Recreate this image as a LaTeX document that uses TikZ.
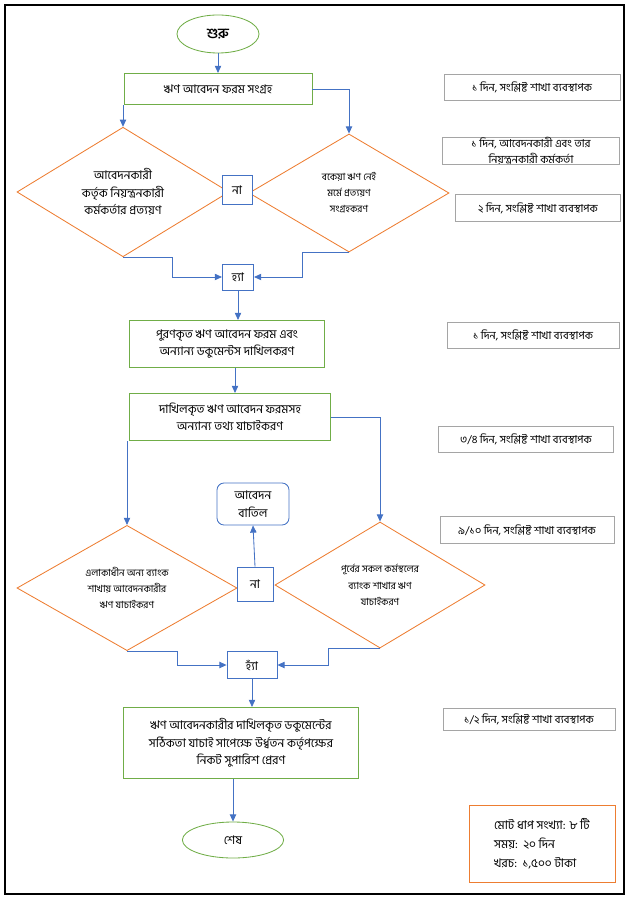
\documentclass[tikz,border=0pt]{standalone}
\usepackage{fontspec}
\newfontfamily\bnfont[Script=Bengali]{Hind Siliguri}
\usepackage{tikz}
\usetikzlibrary{arrows.meta,shapes.geometric}

\definecolor{boxgreen}{HTML}{70AD47}
\definecolor{diaorange}{HTML}{ED7D31}
\definecolor{linkblue}{HTML}{4472C4}
\definecolor{notegray}{HTML}{A5A5A5}

\begin{document}
\begin{tikzpicture}[x=0.025cm, y=-0.025cm,
  font=\bnfont\fontsize{8.5}{12.5}\selectfont,
  terminal/.style={ellipse, draw=boxgreen, line width=0.6pt, inner sep=0pt},
  process/.style={draw=boxgreen, line width=0.6pt, align=center, inner sep=0pt},
  decision/.style={diamond, draw=diaorange, line width=0.6pt, align=center, inner sep=0pt},
  answer/.style={draw=linkblue, fill=white, line width=0.6pt, inner sep=0pt},
  note/.style={draw=notegray, line width=0.6pt, align=center, inner sep=0pt,
    font=\bnfont\fontsize{7.8}{11}\selectfont},
  small/.style={font=\bnfont\fontsize{7}{11.5}\selectfont},
  arrow/.style={-{Triangle[length=1.8mm,width=1.6mm]}, draw=linkblue, line width=0.6pt}
]
\useasboundingbox (0,0) rectangle (637,905);
\draw[line width=0.9pt] (5,5) rectangle (624,894);

% main column
\node[terminal, minimum width=2.05cm, minimum height=0.95cm, font=\bnfont\bfseries\fontsize{10}{12}\selectfont] (start) at (218,34) {শুরু};
\node[process, minimum width=4.7cm, minimum height=0.78cm] (collect) at (218,89) {ঋণ আবেদন ফরম সংগ্রহ};
\node[decision, minimum width=5.3cm, minimum height=3.0cm] (ldia) at (123,192)
  {আবেদনকারী\\ কর্তৃক নিয়ন্ত্রনকারী\\ কর্মকর্তার প্রত্যয়ণ};
\node[decision, small, minimum width=5.0cm, minimum height=2.95cm] (rdia) at (349,193)
  {বকেয়া ঋণ নেই\\ মর্মে প্রত্যয়ণ\\ সংগ্রহকরণ};
\node[answer, minimum width=0.75cm, minimum height=0.72cm] (no1) at (237,190) {না};
\node[answer, minimum width=0.78cm, minimum height=0.65cm] (yes1) at (238,277) {হ্যা};
\node[process, minimum width=4.88cm, minimum height=1.18cm] (submit) at (227,344)
  {পুরণকৃত ঋণ আবেদন ফরম এবং\\ অন্যান্য ডকুমেন্টস দাখিলকরণ};
\node[process, minimum width=5.03cm, minimum height=1.18cm] (verify) at (230,417)
  {দাখিলকৃত ঋণ আবেদন ফরমসহ\\ অন্যান্য তথ্য যাচাইকরণ};
\node[decision, small, minimum width=5.5cm, minimum height=2.95cm] (ldia2) at (127,588)
  {এলাকাধীন অন্য ব্যাংক\\ শাখায় আবেদনকারীর\\ ঋণ যাচাইকরণ};
\node[decision, small, minimum width=5.25cm, minimum height=3.15cm] (rdia2) at (380,585)
  {পূর্বের সকল কর্মস্থলের\\ ব্যাংক শাখার ঋণ\\ যাচাইকরণ};
\node[answer, minimum width=0.9cm, minimum height=0.85cm] (no2) at (255,584) {না};
\node[answer, rounded corners=5pt, align=center, minimum width=1.8cm, minimum height=1.05cm] (reject) at (253,504)
  {আবেদন\\ বাতিল};
\node[answer, minimum width=1.25cm, minimum height=0.68cm] (yes2) at (252,665) {হ্যাঁ};
\node[process, minimum width=5.88cm, minimum height=1.78cm] (recommend) at (241,743)
  {ঋণ আবেদনকারীর দাখিলকৃত ডকুমেন্টের\\ সঠিকতা যাচাই সাপেক্ষে উর্ধ্বতন কর্তৃপক্ষের\\ নিকট সুপারিশ প্রেরণ};
\node[terminal, minimum width=2.53cm, minimum height=0.9cm] (finish) at (233,840) {শেষ};

% time notes
\node[note, minimum width=4.4cm, minimum height=0.65cm] (n1) at (532,87) {১ দিন, সংশ্লিষ্ট শাখা ব্যবস্থাপক};
\node[note, minimum width=4.43cm, minimum height=0.68cm] (n2) at (531,151) {১ দিন, আবেদনকারী এবং তার\\ নিয়ন্ত্রনকারী কর্মকর্তা};
\node[note, minimum width=4.13cm, minimum height=0.68cm] (n3) at (538,208) {২ দিন, সংশ্লিষ্ট শাখা ব্যবস্থাপক};
\node[note, minimum width=4.3cm, minimum height=0.65cm] (n4) at (533,335) {১ দিন, সংশ্লিষ্ট শাখা ব্যবস্থাপক};
\node[note, minimum width=4.38cm, minimum height=0.65cm] (n5) at (526,439) {৩/৪ দিন, সংশ্লিষ্ট শাখা ব্যবস্থাপক};
\node[note, minimum width=4.35cm, minimum height=0.68cm] (n6) at (527,530) {৯/১০ দিন, সংশ্লিষ্ট শাখা ব্যবস্থাপক};
\node[note, minimum width=4.3cm, minimum height=0.55cm] (n7) at (529,719) {১/২ দিন, সংশ্লিষ্ট শাখা ব্যবস্থাপক};
\node[draw=diaorange, line width=0.6pt, align=left, minimum width=3.65cm, minimum height=1.93cm,
  font=\bnfont\fontsize{8.5}{13.5}\selectfont] (summary) at (542,844)
  {মোট ধাপ সংখ্যা: ৮ টি\\ সময়:\ \ ২০ দিন\\ খরচ:\ \ ১,৫০০ টাকা};

% connectors
\draw[arrow] (start) -- (collect);
\draw[arrow] (collect.south -| ldia.north) -- (ldia.north);
\draw[arrow] (collect.east) -| (rdia.north);
\draw[arrow] (ldia.south) -- ++(49,0) |- (yes1.west);
\draw[arrow] (rdia.south) -- ++(-47,0) |- (yes1.east);
\draw[arrow] (yes1.south) -- (yes1.south |- submit.north);
\draw[arrow] ([xshift=0.2cm]submit.south) -- ([xshift=0.2cm]submit.south |- verify.north);
\draw[arrow] (verify.south -| ldia2.north) -- (ldia2.north);
\draw[arrow] (verify.east) -| (rdia2.north);
\draw[arrow] (no2.north) -- (reject.south);
\draw[arrow] (ldia2.south) -- ++(50,0) |- (yes2.west);
\draw[arrow] (rdia2.south) -- ++(-52,0) |- (yes2.east);
\draw[arrow] (yes2.south) -- (yes2.south |- recommend.north);
\draw[arrow] (finish.north |- recommend.south) -- (finish.north);
\end{tikzpicture}
\end{document}
